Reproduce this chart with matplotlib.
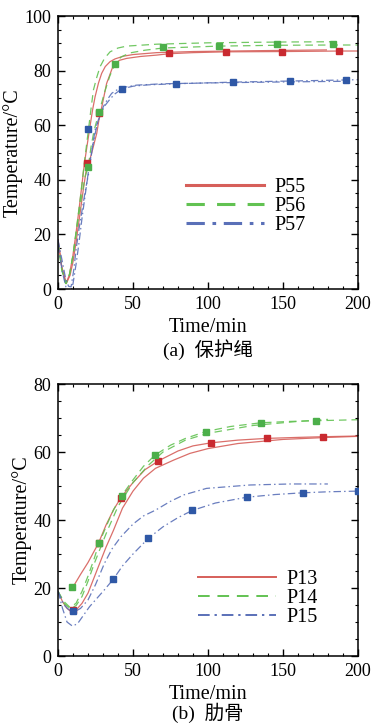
import matplotlib
matplotlib.use("Agg")
import matplotlib.pyplot as plt
from matplotlib.ticker import MultipleLocator

plt.rcParams['font.family'] = ['Liberation Serif', 'Noto Sans CJK SC', 'DejaVu Sans']

# ---- (a) 保护绳 ----
p55_t1 = [0, 2.5, 5.3, 7.5, 9.8, 12, 14.2, 16, 17.6, 19.5, 21.3, 23, 24.7, 27, 29.1, 31.5, 34.7, 38, 43.6, 50, 65.8, 90, 130, 179]
p55_v1 = [18, 8, 2.1, 5, 11.8, 20.5, 30.1, 38.5, 46, 53, 59.5, 65.5, 70.4, 75.5, 79, 81.5, 83.3, 84.3, 85.3, 85.9, 86.6, 87, 87.3, 87.6]
p55_t2 = [0, 2.5, 5.5, 8, 10, 12, 14.5, 17, 19.5, 21, 23, 25.8, 27.3, 29.1, 32.4, 36.9, 41, 45.8, 55, 65.8, 74, 90, 112, 150, 188, 200]
p55_v2 = [18, 8, 2, 5, 10, 17, 27, 37, 46, 47, 51, 57, 62, 66.5, 75.3, 82, 83.8, 84.5, 85.2, 85.7, 86.2, 86.6, 86.9, 87, 87.2, 87.2]
p55_mt = [19.5, 27.3, 74, 111.8, 149.6, 187.6]
p55_mv = [46, 64.6, 86.3, 86.9, 86.9, 87.3]

p56_t1 = [0, 2.5, 5, 7.5, 10, 12.5, 15, 17.5, 20.2, 22, 23.6, 25.8, 28, 31, 34.7, 40, 45.8, 65.8, 100, 150, 185]
p56_v1 = [17, 7, 2, 5, 12.5, 23, 34, 46, 58, 66, 72.9, 77.5, 81.4, 84.5, 86.9, 88.3, 89, 89.7, 90.2, 90.5, 90.6]
p56_t2 = [0, 2.5, 5.5, 8, 10.5, 13, 15.5, 18, 20.2, 22, 24, 27.6, 31, 34.5, 38, 42, 48, 58, 70, 107.6, 145.8, 183.6, 200]
p56_v2 = [17, 7, 2, 6, 14, 24, 33, 41, 45, 52, 58, 65.2, 72, 78, 82.4, 85, 86.5, 87.5, 88.3, 89, 89.3, 89.4, 89.4]
p56_mt = [20.2, 27.6, 38, 70, 107.6, 145.8, 183.6]
p56_mv = [44.8, 64.7, 82.4, 88.5, 89.2, 89.6, 89.6]

p57_t1 = [0, 2.5, 5, 7, 8.7, 10.5, 12, 14, 16.4, 18.5, 20.9, 22.7, 24.7, 27.5, 30.2, 33, 35.8, 40, 45, 52.4, 70, 100, 140, 190]
p57_v1 = [18, 11, 4, 1, 0.8, 7, 14.3, 22, 30.1, 37, 43.6, 51, 58.2, 63, 66.8, 69.5, 71.7, 73.2, 74, 74.7, 75.2, 75.5, 75.8, 76.1]
p57_t2 = [0, 3, 6, 8, 10, 12, 14, 16, 18, 20, 22, 24, 26, 28, 31, 35, 38, 42.4, 50, 60, 78.7, 116.9, 154.7, 192.4, 200]
p57_v2 = [16, 6, -1, -2, 2, 9, 17, 26, 34, 42, 49, 55, 60, 63.5, 67, 69.8, 71.5, 73.3, 74.3, 74.8, 75.2, 75.8, 76.2, 76.6, 76.7]
p57_mt = [20.2, 42.4, 78.7, 116.9, 154.7, 192.4]
p57_mv = [58.6, 73.3, 75.2, 75.8, 76.2, 76.6]

# ---- (b) 肋骨 ----
p13_t1 = [10, 15, 20, 27, 32, 37, 42, 50, 58, 67, 80, 90, 102, 120, 139, 160, 177, 200]
p13_v1 = [20.3, 24, 27.5, 33.2, 38.5, 43, 46.6, 51, 54.8, 57.4, 60.3, 61.8, 62.7, 63.5, 64, 64.3, 64.5, 64.7]
p13_t2 = [0, 3, 6, 9, 12, 16, 20, 24, 28, 32, 37, 43, 50, 57, 65, 77, 88, 100, 120, 150, 180, 200]
p13_v2 = [19, 16, 14, 13, 13.5, 15.5, 18.5, 23, 27.5, 32, 37, 43.5, 48.5, 52.3, 55.2, 57.6, 59.6, 61, 62.5, 63.7, 64.3, 64.6]
p13_mt = [9.8, 27.1, 42, 66.9, 102, 139.1, 176.9]
p13_mv = [13.5, 33.3, 46.6, 57.4, 62.7, 64, 64.5]

p14_t1 = [0, 4, 8, 12, 16, 20, 24, 27.3, 32, 37, 42.4, 50, 57, 64.7, 75, 85, 98.4, 115, 135.3, 155, 172, 200]
p14_v1 = [19, 16, 14.3, 15.5, 19, 23.5, 28.5, 33.1, 38, 43, 47.1, 51.8, 55.8, 59.1, 62, 64, 66, 67.5, 68.6, 69, 69.2, 69.5]
p14_t2 = [0, 4, 8, 12, 16, 20, 24, 28, 33, 40, 50, 60, 70, 85, 100, 130, 160, 180]
p14_v2 = [19, 15.5, 14, 14.8, 17.5, 22, 27, 31.5, 37, 44, 51, 56, 60, 63.5, 65.5, 67.8, 69, 69.6]
p14_mt = [9.6, 27.3, 42.4, 64.7, 98.4, 135.3, 172]
p14_mv = [20.2, 33.1, 47.1, 59.1, 66, 68.6, 69.2]

p15_t1 = [0, 4, 8, 11, 15, 20, 25, 31, 36, 42, 50, 57, 65, 75, 84, 99, 128, 155, 180]
p15_v1 = [19, 15, 13.3, 13, 14, 16.5, 21, 27.3, 31.5, 35.1, 38.8, 41.2, 42.9, 45.5, 47.4, 49.3, 50.3, 50.6, 50.6]
p15_t2 = [0, 3, 6, 9.6, 13, 17, 21, 26, 31, 36.9, 43, 50, 60.2, 70, 80, 89.5, 105, 125.8, 145, 163.1, 180, 200]
p15_v2 = [19, 14, 10, 8.8, 9.5, 12, 14.5, 17, 19.5, 22.6, 26.5, 30, 34.6, 38, 40.7, 42.8, 45, 46.7, 47.5, 48, 48.3, 48.5]
p15_mt = [9.8, 36.9, 60.2, 89.5, 125.8, 163.1, 199.8]
p15_mv = [13.3, 22.6, 34.6, 42.8, 46.7, 48, 48.5]

RED_L, RED_M = "#d65f5a", "#c92a30"
GRN_L, GRN_M = "#62c252", "#4caf4a"
BLU_L, BLU_M = "#5a70b8", "#2f58a6"
DASH = (0, (6, 4))
DASHDOT = (0, (6, 2.5, 1.2, 2.5))


def draw_series(ax, t1, v1, t2, v2, mt, mv, color, mcolor, ls, label):
    ax.plot(t1, v1, color=color, ls=ls, lw=0.9, alpha=0.9)
    ax.plot(t2, v2, color=color, ls=ls, lw=0.9, alpha=0.9)
    ax.plot(mt, mv, ls="none", marker="s", ms=5, color=mcolor, mec=mcolor, zorder=4)
    # proxy for legend
    ax.plot([], [], color=color, ls=ls, label=label)


def style_axes(ax, ymax, caption, legend_lw, legend_anchor, cap_y):
    ax.set_xlim(0, 200)
    ax.set_ylim(0, ymax)
    ax.xaxis.set_major_locator(MultipleLocator(50))
    ax.xaxis.set_minor_locator(MultipleLocator(10))
    ax.yaxis.set_major_locator(MultipleLocator(20))
    ax.yaxis.set_minor_locator(MultipleLocator(5))
    ax.tick_params(which="both", direction="in", top=True, right=True, labelsize=13, pad=5)
    ax.tick_params(which="major", length=5, width=1)
    ax.tick_params(which="minor", length=2.5, width=0.8)
    for s in ax.spines.values():
        s.set_linewidth(1.1)
    ax.set_xlabel("Time/min", fontsize=14.5, labelpad=3.5)
    ax.set_ylabel("Temperature/°C", fontsize=14.5, labelpad=1)
    leg = ax.legend(loc="lower right", bbox_to_anchor=legend_anchor, frameon=False, fontsize=14.5,
                    handlelength=3.9, handletextpad=0.5, labelspacing=0.0, borderpad=0)
    for ln in leg.get_lines():
        ln.set_linewidth(legend_lw)
    ax.text(0.5, cap_y, caption, transform=ax.transAxes, ha="center", va="center", fontsize=14)


fig = plt.figure(figsize=(3.72, 7.24), dpi=100)
ax1 = fig.add_axes([0.156, 0.6008, 0.806, 0.377])
ax2 = fig.add_axes([0.156, 0.0939, 0.806, 0.3757])

draw_series(ax1, p55_t1, p55_v1, p55_t2, p55_v2, p55_mt, p55_mv, RED_L, RED_M, "-", "P55")
draw_series(ax1, p56_t1, p56_v1, p56_t2, p56_v2, p56_mt, p56_mv, GRN_L, GRN_M, DASH, "P56")
draw_series(ax1, p57_t1, p57_v1, p57_t2, p57_v2, p57_mt, p57_mv, BLU_L, BLU_M, DASHDOT, "P57")
style_axes(ax1, 100, "(a)  保护绳", 2.2, (0.86, 0.16), -0.223)

draw_series(ax2, p13_t1, p13_v1, p13_t2, p13_v2, p13_mt, p13_mv, RED_L, RED_M, "-", "P13")
draw_series(ax2, p14_t1, p14_v1, p14_t2, p14_v2, p14_mt, p14_mv, GRN_L, GRN_M, DASH, "P14")
draw_series(ax2, p15_t1, p15_v1, p15_t2, p15_v2, p15_mt, p15_mv, BLU_L, BLU_M, DASHDOT, "P15")
style_axes(ax2, 80, "(b)  肋骨", 1.4, (0.90, 0.068), -0.21)

fig.savefig("out.png", dpi=100)
